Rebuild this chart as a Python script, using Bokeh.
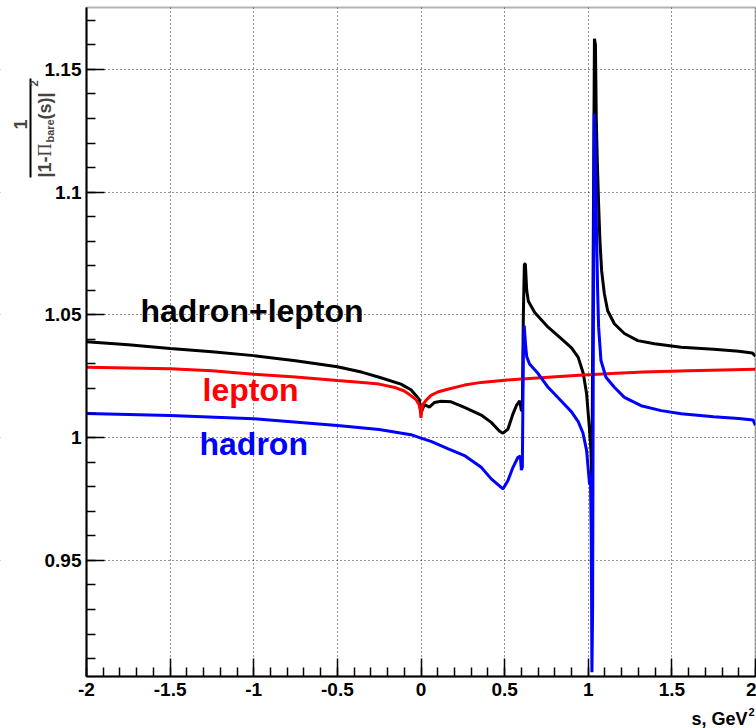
from math import pi

from bokeh.embed import file_html
from bokeh.models import Arrow, BoxAnnotation, FixedTicker, Label, Range1d
from bokeh.plotting import figure
from bokeh.resources import INLINE

# ---- data: 1/|1-Pi_bare(s)|^2 versus s (GeV^2) ----
s_sum = [-2.0, -1.75, -1.5, -1.25, -1.0, -0.75, -0.5, -0.35, -0.25, -0.12, -0.06, -0.03,
         -0.01, 0.0, 0.02, 0.05, 0.08, 0.12, 0.18, 0.26, 0.36, 0.42, 0.47, 0.49, 0.52,
         0.55, 0.57, 0.59, 0.60, 0.606, 0.612, 0.618, 0.624, 0.632, 0.642, 0.68, 0.76,
         0.84, 0.90, 0.94, 0.97, 0.99, 1.008, 1.016, 1.022, 1.030, 1.037, 1.043, 1.048,
         1.054, 1.062, 1.070, 1.080, 1.096, 1.116, 1.156, 1.216, 1.296, 1.396, 1.556,
         1.75, 1.9, 1.98, 2.0]
v_sum = [1.0391, 1.0378, 1.0363, 1.0350, 1.0334, 1.0313, 1.0289, 1.0266, 1.0246, 1.0218,
         1.0195, 1.0172, 1.0155, 1.0100, 1.0135, 1.0124, 1.0143, 1.0148, 1.0146, 1.0123,
         1.0092, 1.0062, 1.0026, 1.0018, 1.0035, 1.0097, 1.0130, 1.0150, 1.0110, 1.0110,
         1.0500, 1.0707, 1.0707, 1.0600, 1.0555, 1.0510, 1.0450, 1.0402, 1.0366, 1.0327,
         1.0262, 1.0180, 1.0030, 0.9950, 0.9818, 1.0800, 1.1625, 1.1600, 1.1300, 1.1130,
         1.0950, 1.0800, 1.0680, 1.0587, 1.0517, 1.0464, 1.0424, 1.0395, 1.0382, 1.0368,
         1.0360, 1.0352, 1.0345, 1.0332]

s_lep = [-2.0, -1.75, -1.5, -1.25, -1.0, -0.75, -0.5, -0.35, -0.25, -0.15, -0.1, -0.06,
         -0.03, -0.012, -0.004, 0.0, 0.004, 0.012, 0.03, 0.06, 0.1, 0.16, 0.26, 0.36,
         0.56, 0.76, 0.97, 1.17, 1.33, 1.6, 2.0]
v_lep = [1.0287, 1.0284, 1.0281, 1.0272, 1.0258, 1.0247, 1.0233, 1.0225, 1.0218, 1.0203,
         1.0190, 1.0171, 1.0155, 1.0135, 1.0110, 1.0081, 1.0110, 1.0135, 1.0152, 1.0172,
         1.0186, 1.0197, 1.0214, 1.0225, 1.0237, 1.0246, 1.0255, 1.0262, 1.0267, 1.0272,
         1.0278]

s_had = [-2.0, -1.5, -1.0, -0.5, -0.25, -0.06, 0.0, 0.06, 0.16, 0.26, 0.36, 0.42, 0.49,
         0.52, 0.55, 0.58, 0.594, 0.600, 0.606, 0.612, 0.617, 0.625, 0.632, 0.649, 0.699,
         0.76, 0.84, 0.90, 0.94, 0.968, 0.99, 1.008, 1.013, 1.018, 1.022, 1.026, 1.030,
         1.036, 1.042, 1.048, 1.056, 1.062, 1.076, 1.106, 1.156, 1.216, 1.316, 1.436,
         1.556, 1.75, 1.9, 1.985, 2.0]
v_had = [1.0098, 1.0090, 1.0077, 1.0049, 1.0033, 1.0012, 0.9998, 0.9985, 0.9955, 0.9927,
         0.9879, 0.9832, 0.9791, 0.9825, 0.9879, 0.9920, 0.9925, 0.9868, 0.9880, 1.0350,
         1.0456, 1.0380, 1.0330, 1.0300, 1.0262, 1.0205, 1.0148, 1.0105, 1.0065, 1.0020,
         0.9948, 0.9810, 0.9850, 0.9600, 0.9044, 0.9300, 1.0300, 1.1320, 1.1200, 1.0900,
         1.0600, 1.0450, 1.0314, 1.0246, 1.0205, 1.0164, 1.0130, 1.0110, 1.0097, 1.0085,
         1.0078, 1.0072, 1.0050]

x_major = [-2.0, -1.5, -1.0, -0.5, 0.0, 0.5, 1.0, 1.5, 2.0]
x_labels = ["-2", "-1.5", "-1", "-0.5", "0", "0.5", "1", "1.5", "2"]
y_major = [0.95, 1.0, 1.05, 1.1, 1.15]
y_labels = ["0.95", "1", "1.05", "1.1", "1.15"]

# axis box limits
X0, X1 = -2.0, 2.0
Y0, Y1 = 0.9027, 1.1752

# canvas and where the axis box sits on it (pixels from top-left)
W, H = 756, 728
BOX_L, BOX_R, BOX_T, BOX_B = 86, 755, 7, 676
FONT = "Liberation Sans"
BASE_SHIFT = 0.37  # alphabetic-baseline correction, in em

kx = (X1 - X0) / (BOX_R - BOX_L)
ky = (Y1 - Y0) / (BOX_B - BOX_T)


def dx(px):
    return X0 + (px - BOX_L) * kx


def dy(py):
    return Y1 - (py - BOX_T) * ky


# the plotting area spans the whole canvas; axes are pinned to the box edges
p = figure(width=W, height=H, output_backend="svg", toolbar_location=None,
           x_range=Range1d(dx(0), dx(W)), y_range=Range1d(dy(H), dy(0)),
           min_border=0, title=None)
p.background_fill_color = "white"
p.border_fill_color = "white"
p.outline_line_color = None

p.xaxis.ticker = FixedTicker(ticks=x_major,
                             minor_ticks=[round(-2 + 0.1 * i, 2) for i in range(41)])
p.yaxis.ticker = FixedTicker(ticks=y_major,
                             minor_ticks=[round(0.91 + 0.01 * i, 2) for i in range(27)])
p.xaxis.major_label_overrides = dict(zip(x_major, x_labels))
p.yaxis.major_label_overrides = dict(zip(y_major, y_labels))
p.xaxis.fixed_location = Y0
p.yaxis.fixed_location = X0
p.xaxis.bounds = (X0, X1)
p.yaxis.bounds = (Y0, Y1)
for ax in (p.xaxis, p.yaxis):
    ax.major_tick_in = 18
    ax.major_tick_out = 0
    ax.minor_tick_in = 9
    ax.minor_tick_out = 0
    ax.axis_line_width = 2
    ax.major_tick_line_width = 1.5
    ax.minor_tick_line_width = 1.5
    ax.major_label_text_font = FONT
    ax.major_label_text_font_style = "bold"
    ax.major_label_text_font_size = "19px"
    ax.major_label_text_color = "black"
p.xaxis.major_label_standoff = 6
p.yaxis.major_label_standoff = 5

for g in (p.xgrid, p.ygrid):
    g.grid_line_color = "black"
    g.grid_line_dash = "1 3"
    g.grid_line_width = 1
    g.grid_line_alpha = 0.85

# keep the dotted grid inside the axis box: white margins painted over it
for kw in (dict(right=X0), dict(left=X1), dict(top=Y0), dict(bottom=Y1)):
    p.add_layout(BoxAnnotation(fill_color="white", fill_alpha=1.0, line_color=None,
                               level="glyph", **kw))

# curves
p.line(s_sum, v_sum, line_color="black", line_width=3)
p.line(s_lep, v_lep, line_color="#ff0000", line_width=3)
p.line(s_had, v_had, line_color="#0000ff", line_width=3)

# frame around the axis box
p.add_layout(BoxAnnotation(left=X0, right=X1, bottom=Y0, top=Y1, fill_color=None,
                           line_color="black", line_width=2, level="annotation"))


def hlab(text, px, py, size, color="black", align="left"):
    """Horizontal text; (px, py) is the baseline anchor in canvas pixels."""
    p.add_layout(Label(x=dx(px), y=dy(py - BASE_SHIFT * size), text=text,
                       text_color=color, text_font=FONT, text_font_style="bold",
                       text_font_size=f"{size}px", text_baseline="alphabetic",
                       text_align=align))


def vlab(text, px, py, size, align="left", font=FONT, style="bold"):
    """Text rotated to read upwards; px is the baseline column in canvas pixels."""
    p.add_layout(Label(x=dx(px - BASE_SHIFT * size), y=dy(py), text=text,
                       angle=pi / 2, text_align=align, text_baseline="alphabetic",
                       text_font=font, text_font_style=style,
                       text_font_size=f"{size}px"))


# curve names
hlab("hadron+lepton", 140, 322, 32)
hlab("lepton", 202, 401, 32, color="#ff0000")
hlab("hadron", 199, 455, 32, color="#0000ff")

# x-axis title, right aligned under the box
hlab("s, GeV", 747, 725, 18, align="right")
hlab("2", 748, 716, 11)

# y-axis title: 1 / |1-Pi_bare(s)|^2
vlab("1", 27, 124, 18, align="center")
p.add_layout(Arrow(end=None, x_start=dx(30), y_start=dy(177), x_end=dx(30),
                   y_end=dy(78), line_color="black", line_width=2))
vlab("|1-", 51, 177, 18)
vlab("\u03a0", 51, 156, 18, font="Liberation Serif", style="normal")
vlab("bare", 54, 142, 11)
vlab("(s)|", 51, 119, 18)
vlab("2", 38, 86, 11)

open("out.html", "w").write(file_html(p, INLINE))
